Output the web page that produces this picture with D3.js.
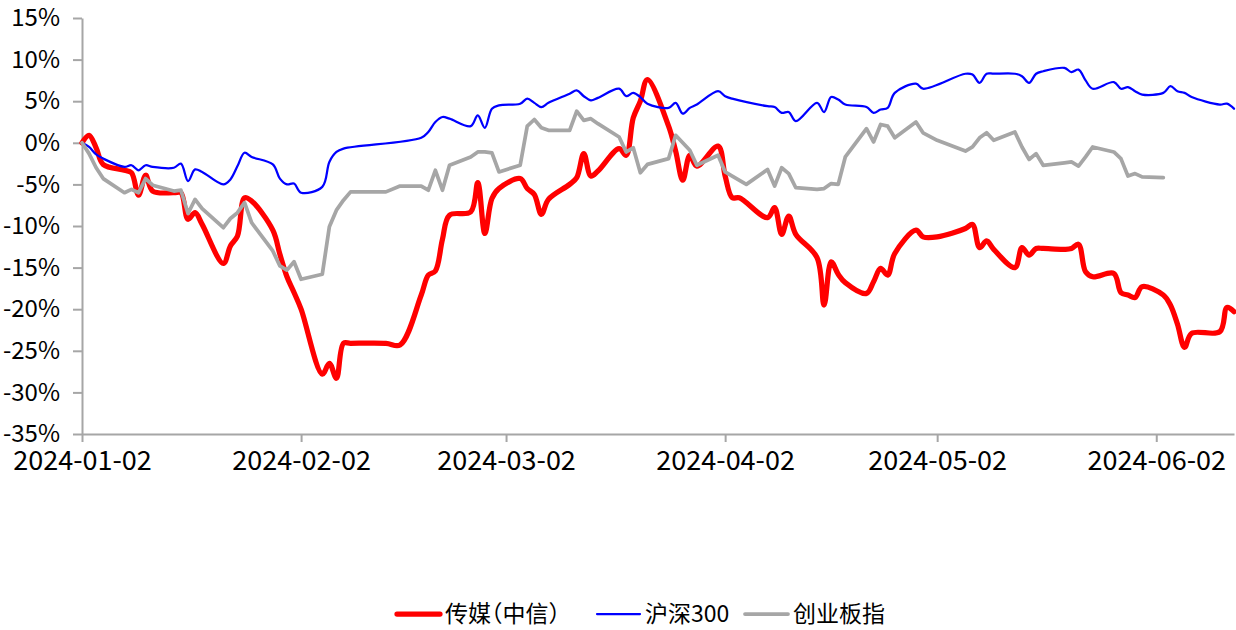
<!DOCTYPE html>
<html>
<head>
<meta charset="utf-8">
<script src="https://cdn.jsdelivr.net/npm/d3@7"></script>
<style>
  html, body { margin: 0; padding: 0; background: #fff; }
  svg { display: block; }
  .axis text { font-family: "Noto Sans CJK SC", "Liberation Sans", sans-serif; fill: #000; }
  .legend text { font-family: "Noto Sans CJK SC", sans-serif; fill: #000; font-feature-settings: "halt"; }
</style>
</head>
<body>
<svg id="chart" width="1236" height="630"></svg>
<script>
// ---- data ----
const seriesNames = ["传媒（中信）", "沪深300", "创业板指"];
const dates = [
  "2024-01-02","2024-01-03","2024-01-04","2024-01-05","2024-01-08","2024-01-09","2024-01-10","2024-01-11","2024-01-12",
  "2024-01-15","2024-01-16","2024-01-17","2024-01-18","2024-01-19","2024-01-22","2024-01-23","2024-01-24","2024-01-25",
  "2024-01-26","2024-01-29","2024-01-30","2024-01-31","2024-02-01","2024-02-02","2024-02-05","2024-02-06","2024-02-07",
  "2024-02-08","2024-02-09","2024-02-14","2024-02-16","2024-02-19","2024-02-20","2024-02-21","2024-02-22","2024-02-23",
  "2024-02-26","2024-02-27","2024-02-28","2024-02-29","2024-03-01","2024-03-04","2024-03-05","2024-03-06","2024-03-07",
  "2024-03-08","2024-03-11","2024-03-12","2024-03-13","2024-03-14","2024-03-15","2024-03-18","2024-03-19","2024-03-20",
  "2024-03-21","2024-03-22","2024-03-25","2024-03-26","2024-03-27","2024-03-28","2024-03-29","2024-04-01","2024-04-02",
  "2024-04-03","2024-04-04","2024-04-05","2024-04-08","2024-04-09","2024-04-10","2024-04-11","2024-04-12","2024-04-15",
  "2024-04-16","2024-04-17","2024-04-18","2024-04-19","2024-04-22","2024-04-23","2024-04-24","2024-04-25","2024-04-26",
  "2024-04-29","2024-04-30","2024-05-02","2024-05-06","2024-05-07","2024-05-08","2024-05-09","2024-05-10","2024-05-13",
  "2024-05-14","2024-05-15","2024-05-16","2024-05-17","2024-05-20","2024-05-21","2024-05-22","2024-05-23","2024-05-24",
  "2024-05-27","2024-05-28","2024-05-29","2024-05-30","2024-05-31","2024-06-03","2024-06-04","2024-06-05","2024-06-06",
  "2024-06-07","2024-06-11","2024-06-12","2024-06-13"
];
// 传媒（中信） cumulative return, %
const media = [
  0, 0.9, -0.6, -2.6, -3.3, -3.6, -6.3, -3.9, -5.8,
  -6.0, -6.0, -9.2, -8.4, -9.8, -14.5, -12.4, -11.2, -6.6,
  -7.0, -10.5, -13.4, -16.1, -18.0, -20.0, -27.8, -26.5, -28.3,
  -24.1, -24.1, -24.1, -24.3, -18.3, -15.9, -15.4, -11.6, -8.7,
  -8.3, -4.8, -10.9, -6.7, -5.5, -4.3, -5.5, -6.2, -8.6,
  -6.8, -5.0, -4.2, -1.3, -4.0, -3.4, -0.7, -1.5, 3.0,
  5.0, 7.6, 2.0, -1.0, -4.5, -1.5, -2.8, -0.4, -4.0,
  -6.6, -6.6, null, -9.0, -7.8, -11.0, -8.8, -11.0, -13.8,
  -19.5, -14.3, -15.8, -16.8, -18.1, -16.7, -15.1, -15.9, -13.3,
  -10.5, -11.3, -11.3, -10.3, -9.8, -12.6, -11.8, -12.8, -15.0,
  -12.6, -13.5, -12.7, -12.7, -12.8, -12.7, -12.2, -15.5, -16.1,
  -15.7, -18.0, -18.3, -18.6, -17.3, -18.3, -19.5, -21.8, -24.6,
  -22.9, -22.7, -19.8, -20.3
];
// 沪深300 cumulative return, %
const hs300 = [
  0, -0.5, -1.4, -1.9, -2.9, -2.7, -3.3, -2.7, -2.9,
  -3.0, -2.5, -4.6, -3.2, -3.5, -5.0, -4.4, -2.8, -1.2,
  -1.7, -2.6, -4.3, -5.0, -4.9, -6.0, -5.3, -2.3, -1.1,
  -0.7, null, null, null, 0.6, 1.3, 2.5, 3.1, 2.9,
  2.0, 3.3, 1.8, 4.1, 4.5, 4.7, 5.3, 4.8, 4.3,
  4.8, 5.9, 6.3, 5.6, 5.1, 5.4, 6.5, 5.6, 6.0,
  5.5, 4.7, 4.2, 4.8, 3.5, 4.2, 4.6, 6.2, 5.6,
  5.3, null, null, 4.4, 4.3, 3.6, 3.7, 2.6, 4.8,
  3.7, 5.5, 5.2, 4.6, 4.3, 3.6, 4.0, 4.2, 6.0,
  7.1, 6.5, null, 8.3, 8.2, 7.2, 8.3, 8.3, 8.3,
  8.0, 7.2, 8.3, 8.6, 9.0, 8.5, 8.8, 7.5, 6.5,
  7.3, 6.5, 6.7, 6.2, 5.8, 6.0, 6.8, 6.2, 6.0,
  5.5, 4.6, 4.7, 4.1
];
// 创业板指 cumulative return, %
const chinext = [
  0, -1.3, -3.0, -4.3, -6.0, -5.6, -6.0, -4.3, -5.1,
  -5.8, -5.7, -8.5, -6.8, -7.9, -10.2, -9.1, -8.4, -7.2,
  -9.6, -13.0, -14.8, -15.3, -14.3, -16.4, -15.8, -10.1, -8.1,
  -6.9, -5.9, -5.9, -5.2, -5.2, -5.7, -3.3, -5.7, -2.7,
  -1.7, -1.1, -1.1, -1.2, -3.5, -2.7, 2.0, 2.8, 1.8,
  1.5, 1.5, 3.8, 2.7, 2.9, 2.3, 0.7, -1.1, -0.6,
  -3.6, -2.6, -1.9, 0.9, 0.0, -0.9, -2.7, -1.5, -3.5,
  -4.0, null, -5.0, -3.2, -5.2, -3.0, -3.7, -5.4, -5.6,
  -5.5, -4.9, -5.0, -1.7, 1.7, 0.1, 2.2, 2.0, 0.6,
  2.5, 1.2, 0.3, -1.0, -0.5, 0.6, 1.2, 0.3, 1.3,
  -0.5, -2.0, -1.3, -2.7, -2.4, -2.3, -2.8, -1.7, -0.5,
  -1.1, -1.9, -4.0, -3.7, -4.1, -4.2, null, null, null,
  null, null, null, null
];
const yTicks = [15, 10, 5, 0, -5, -10, -15, -20, -25, -30, -35];
const xTickLabels = ["2024-01-02", "2024-02-02", "2024-03-02", "2024-04-02", "2024-05-02", "2024-06-02"];

// ---- drawing ----
const svg = d3.select("#chart");
const parse = d3.utcParse("%Y-%m-%d");
const fmt = d3.utcFormat("%Y-%m-%d");
const plotLeft = 82, plotRight = 1234, plotTop = 18, plotBottom = 434;

const x = d3.scaleUtc()
  .domain([parse(dates[0]), parse(dates[dates.length - 1])])
  .range([plotLeft, plotRight]);
const y = d3.scaleLinear().domain([-35, 15]).range([plotBottom, plotTop]);

const axisColor = "#A6A6A6";

const gx = svg.append("g").attr("class", "axis")
  .attr("transform", `translate(0,${plotBottom})`)
  .call(d3.axisBottom(x).tickValues(xTickLabels.map(parse)).tickFormat(fmt)
    .tickSize(8).tickSizeOuter(0).tickPadding(9));
gx.selectAll("text").attr("font-size", 27);

const gy = svg.append("g").attr("class", "axis")
  .attr("transform", `translate(${plotLeft},0)`)
  .call(d3.axisLeft(y).tickValues(yTicks).tickFormat(d => d + "%")
    .tickSize(9).tickSizeOuter(0).tickPadding(13));
gy.selectAll("text").attr("font-size", 24);

svg.selectAll(".axis path, .axis line").attr("stroke", axisColor).attr("stroke-width", 2);

const series = [
  { name: seriesNames[0], values: media, color: "#FF0000", width: 5.25, curve: d3.curveCatmullRom.alpha(0.5) },
  { name: seriesNames[1], values: hs300, color: "#0000FF", width: 2.25, curve: d3.curveCatmullRom.alpha(0.5) },
  { name: seriesNames[2], values: chinext, color: "#A6A6A6", width: 3.75, curve: d3.curveLinear }
];

series.forEach(s => {
  const pts = dates.map((d, i) => ({ d: parse(d), v: s.values[i] })).filter(p => p.v !== null);
  const line = d3.line().x(p => x(p.d)).y(p => y(p.v)).curve(s.curve);
  svg.append("path")
    .datum(pts)
    .attr("d", line)
    .attr("fill", "none")
    .attr("stroke", s.color)
    .attr("stroke-width", s.width)
    .attr("stroke-linejoin", "round")
    .attr("stroke-linecap", "round");
});

// legend
const legendX = [397, 597, 745];
const legendY = 614;
const lg = svg.append("g").attr("class", "legend");
series.forEach((s, i) => {
  const g = lg.append("g").attr("transform", `translate(${legendX[i]},${legendY})`);
  g.append("line").attr("x1", 0).attr("x2", 43).attr("y1", 0).attr("y2", 0)
    .attr("stroke", s.color).attr("stroke-width", s.width).attr("stroke-linecap", "round");
  g.append("text").attr("x", 48).attr("y", 0).attr("dy", "0.36em")
    .attr("font-size", 23).text(s.name);
});
</script>
</body>
</html>
